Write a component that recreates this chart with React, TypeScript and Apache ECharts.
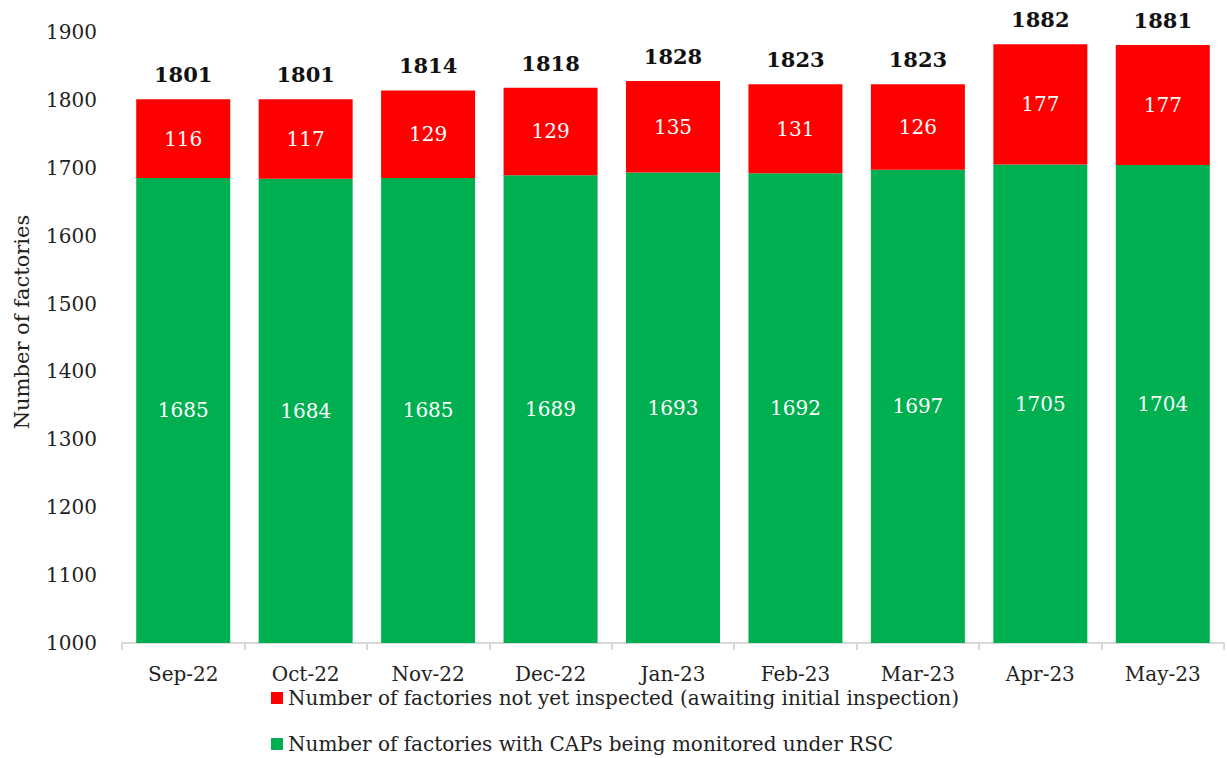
import React, { useEffect, useRef } from "react";
import * as echarts from "echarts";

const categories = ["Sep-22", "Oct-22", "Nov-22", "Dec-22", "Jan-23", "Feb-23", "Mar-23", "Apr-23", "May-23"];
const monitored = [1685, 1684, 1685, 1689, 1693, 1692, 1697, 1705, 1704];
const notInspected = [116, 117, 129, 129, 135, 131, 126, 177, 177];
const totals = [1801, 1801, 1814, 1818, 1828, 1823, 1823, 1882, 1881];
const yTicks = { min: 1000, max: 1900, interval: 100 };

const NAME_RED = "Number of factories not yet inspected (awaiting initial inspection)";
const NAME_GREEN = "Number of factories with CAPs being monitored under RSC";
const FONT = "DejaVu Serif";

export default function App() {
  const ref = useRef<HTMLDivElement>(null);
  useEffect(() => {
    document.body.style.margin = "0";
    const chart = echarts.init(ref.current!, null, { renderer: "svg" });
    const legendBase = {
      left: 271,
      itemWidth: 12,
      itemHeight: 12,
      itemGap: 6,
      icon: "rect",
      padding: 0,
      textStyle: { fontFamily: FONT, fontSize: 20, color: "#222" },
    };
    chart.setOption({
      animation: false,
      textStyle: { fontFamily: FONT },
      grid: { left: 122, right: 3, top: 32, bottom: 115, containLabel: false },
      legend: [
        { ...legendBase, top: 688, data: [NAME_RED] },
        { ...legendBase, top: 734, data: [NAME_GREEN] },
      ],
      graphic: [
        {
          type: "text",
          x: 22,
          y: 322,
          rotation: Math.PI / 2,
          style: {
            text: "Number of factories",
            font: `21px "${FONT}"`,
            fill: "#222",
            textAlign: "center",
            textVerticalAlign: "middle",
          },
        },
      ],
      xAxis: {
        type: "category",
        data: categories,
        axisLine: { lineStyle: { color: "#d9d9d9", width: 2 } },
        axisTick: { show: true, length: 7, lineStyle: { color: "#d9d9d9", width: 2 } },
        axisLabel: { fontFamily: FONT, fontSize: 20, color: "#222", margin: 21 },
      },
      yAxis: {
        type: "value",
        min: yTicks.min,
        max: yTicks.max,
        interval: yTicks.interval,
        splitLine: { show: false },
        axisLine: { show: false },
        axisTick: { show: false },
        axisLabel: {
          fontFamily: FONT,
          fontSize: 20,
          color: "#222",
          margin: 25,
          formatter: (v: number) => String(v),
        },
      },
      series: [
        {
          name: NAME_GREEN,
          type: "bar",
          stack: "s",
          data: monitored,
          barWidth: 94,
          itemStyle: { color: "#00b050" },
          label: { show: true, position: "inside", color: "#fff", fontFamily: FONT, fontSize: 20 },
        },
        {
          name: NAME_RED,
          type: "bar",
          stack: "s",
          data: notInspected,
          barWidth: 94,
          itemStyle: { color: "#ff0000" },
          label: { show: true, position: "inside", color: "#fff", fontFamily: FONT, fontSize: 20 },
        },
        {
          name: "Total",
          type: "bar",
          data: totals,
          barWidth: 94,
          barGap: "-100%",
          silent: true,
          z: 0,
          itemStyle: { color: "transparent" },
          label: {
            show: true,
            position: "top",
            distance: 14,
            color: "#111",
            fontWeight: "bold",
            fontFamily: FONT,
            fontSize: 21,
          },
        },
      ],
    });
    return () => chart.dispose();
  }, []);
  return <div ref={ref} style={{ width: 1227, height: 758 }} />;
}
